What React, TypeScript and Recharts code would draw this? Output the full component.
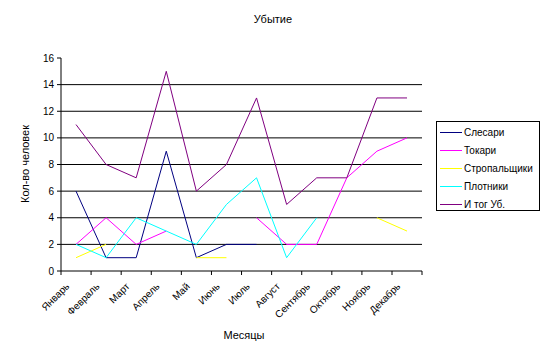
import React from "react";
import { LineChart, Line, XAxis, YAxis, CartesianGrid } from "recharts";

const months = ["Январь", "Февраль", "Март", "Апрель", "Май", "Июнь", "Июль", "Август", "Сентябрь", "Октябрь", "Ноябрь", "Декабрь"];
const slesari = [6, 1, 1, 9, 1, 2, 2, null, null, null, null, null];
const tokari = [2, 4, 2, 3, null, null, 4, 2, 2, 7, 9, 10];
const stropalshchiki = [1, 2, null, null, 1, 1, null, null, null, null, 4, 3];
const plotniki = [2, 1, 4, 3, 2, 5, 7, 1, 4, null, null, null];
const itog = [11, 8, 7, 15, 6, 8, 13, 5, 7, 7, 13, 13];
const yTicks = [0, 2, 4, 6, 8, 10, 12, 14, 16];
const gridValues = [2, 4, 6, 8, 10, 12, 14];

const series = [
    { key: "slesari", name: "Слесари", color: "#000080", values: slesari },
    { key: "tokari", name: "Токари", color: "#FF00FF", values: tokari },
    { key: "strop", name: "Стропальщики", color: "#FFFF00", values: stropalshchiki },
    { key: "plotniki", name: "Плотники", color: "#00FFFF", values: plotniki },
    { key: "itog", name: "И тог Уб.", color: "#800080", values: itog },
];

const data = months.map((m, i) => {
    const row: Record<string, string | number | null> = { month: m };
    series.forEach((s) => {
        row[s.key] = s.values[i];
    });
    return row;
});

const font = "'Liberation Sans', Arial, sans-serif";
const half = 15;

function MonthTick(props: any) {
    const { x, y, payload, index } = props;
    return (
        <g>
            <line x1={x - half} y1={y} x2={x - half} y2={y + 4} stroke="#000" />
            {index === months.length - 1 && (
                <line x1={x + half} y1={y} x2={x + half} y2={y + 4} stroke="#000" />
            )}
            <text
                x={x - 6}
                y={y + 16}
                textAnchor="end"
                fontSize={10}
                fontFamily={font}
                fill="#000"
                transform={`rotate(-45, ${x - 6}, ${y + 16})`}
            >
                {payload.value}
            </text>
        </g>
    );
}

function LegendBox() {
    return (
        <div
            style={{
                position: "absolute",
                left: 436,
                top: 121,
                width: 102,
                height: 87,
                border: "1px solid #000",
                background: "#fff",
                fontFamily: font,
                fontSize: 10,
                paddingTop: 1,
                boxSizing: "content-box",
            }}
        >
            {series.map((s) => (
                <div key={s.key} style={{ display: "flex", alignItems: "center", height: 18 }}>
                    <div style={{ width: 22, height: 1, background: s.color, marginLeft: 3, marginRight: 2 }} />
                    <span style={{ color: "#000" }}>{s.name}</span>
                </div>
            ))}
        </div>
    );
}

export default function App() {
    return (
        <div style={{ position: "absolute", left: 0, top: 0, width: 549, height: 362, background: "#fff", fontFamily: font }}>
            <div style={{ position: "absolute", left: 0, width: 546, top: 13, textAlign: "center", fontSize: 11, color: "#000" }}>
                Убытие
            </div>
            <div style={{ position: "absolute", left: 144, width: 200, top: 329, textAlign: "center", fontSize: 11, color: "#000" }}>
                Месяцы
            </div>
            <div
                style={{
                    position: "absolute",
                    left: 25 - 60,
                    top: 165 - 7,
                    width: 120,
                    textAlign: "center",
                    fontSize: 11,
                    color: "#000",
                    transform: "rotate(-90deg)",
                }}
            >
                Кол-во человек
            </div>
            <LineChart
                width={549}
                height={362}
                data={data}
                margin={{ top: 58, right: 127, left: 21, bottom: 31 }}
            >
                <CartesianGrid horizontal vertical={false} stroke="#000" horizontalValues={gridValues} />
                <XAxis
                    dataKey="month"
                    interval={0}
                    height={60}
                    padding={{ left: 15, right: 15 }}
                    tickSize={0}
                    tickMargin={0}
                    tickLine={false}
                    axisLine={{ stroke: "#000" }}
                    tick={<MonthTick />}
                />
                <YAxis
                    width={40}
                    domain={[0, 16]}
                    ticks={yTicks}
                    interval={0}
                    tickSize={4}
                    tickMargin={3}
                    tickLine={{ stroke: "#000" }}
                    axisLine={{ stroke: "#000" }}
                    tick={{ fontSize: 10, fontFamily: font, fill: "#000" }}
                />
                {series.map((s) => (
                    <Line
                        key={s.key}
                        type="linear"
                        dataKey={s.key}
                        name={s.name}
                        stroke={s.color}
                        strokeWidth={1}
                        dot={false}
                        activeDot={false}
                        isAnimationActive={false}
                    />
                ))}
            </LineChart>
            <LegendBox />
        </div>
    );
}
